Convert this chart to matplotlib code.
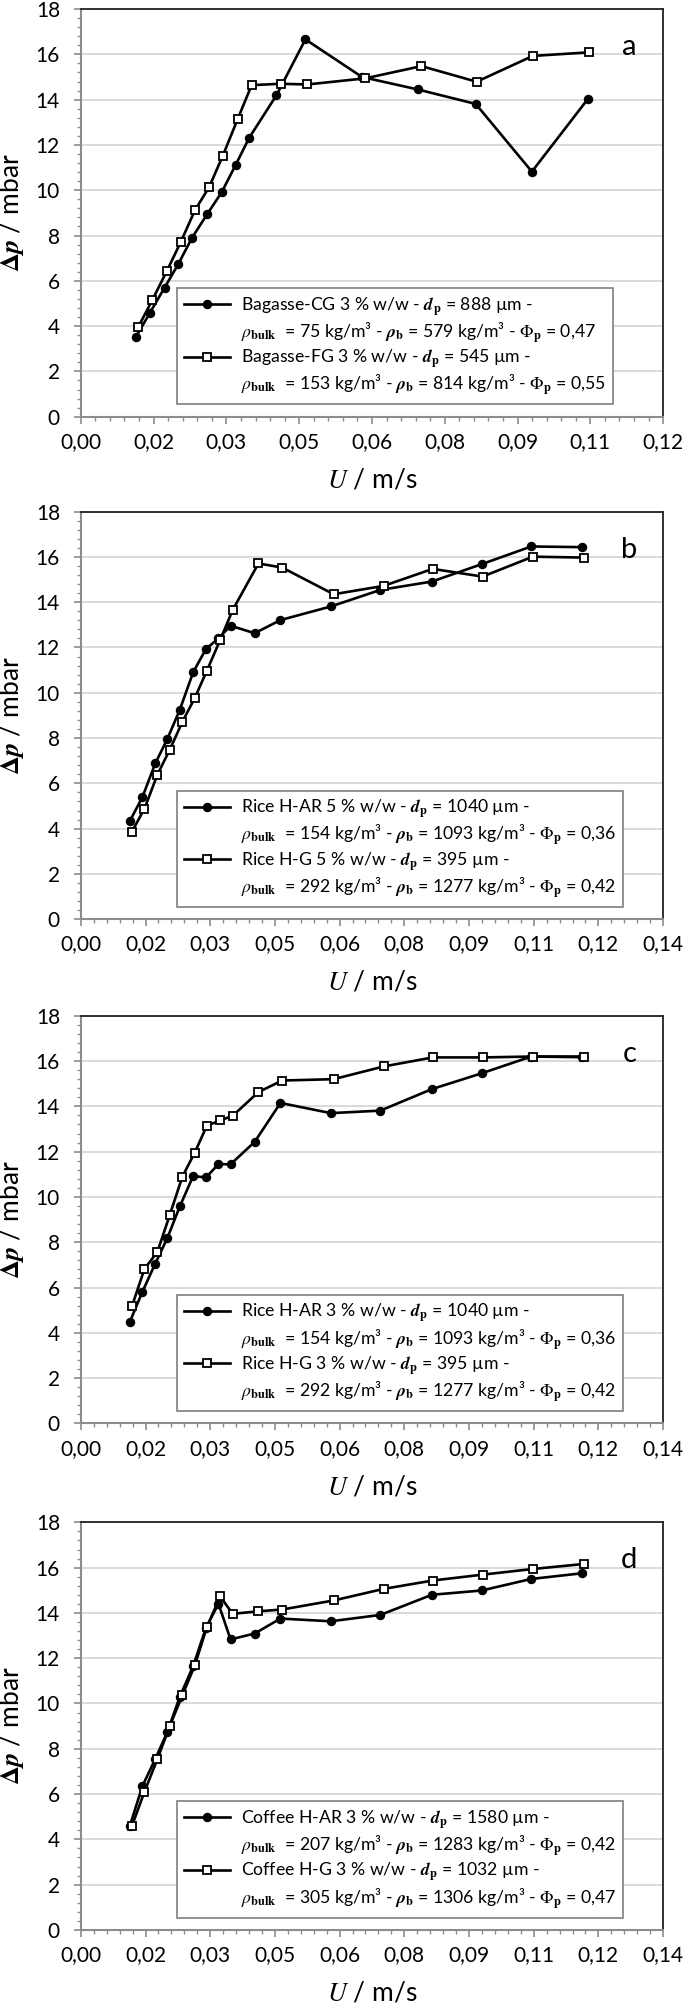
import numpy as np
import matplotlib
matplotlib.use('Agg')
import matplotlib.pyplot as plt
from matplotlib.ticker import FixedLocator, FuncFormatter
from matplotlib.lines import Line2D

plt.rcParams['font.family'] = ['Lato', 'DejaVu Sans']
plt.rcParams['mathtext.fontset'] = 'stix'

# superficial velocities (m/s)
U_ar = [0.0118, 0.0148, 0.0179, 0.0208, 0.0238, 0.0270, 0.0301, 0.0331, 0.0360,
        0.0418, 0.0480, 0.0601, 0.0720, 0.0844, 0.0964, 0.1083, 0.1205]
U_g = [0.0123, 0.0153, 0.0184, 0.0214, 0.0244, 0.0274, 0.0303, 0.0335, 0.0365,
       0.0427, 0.0484, 0.0608, 0.0728, 0.0846, 0.0966, 0.1087, 0.1209]

# pressure drop (mbar)
dp_a_cg = [3.53, 4.60, 5.70, 6.73, 7.91, 8.94, 9.91, 11.12, 12.32, 14.19, 16.66,
           15.00, 14.45, 13.81, 10.82, 14.01]
dp_a_fg = [3.97, 5.16, 6.44, 7.73, 9.12, 10.13, 11.50, 13.13, 14.64, 14.70, 14.67,
           14.94, 15.48, 14.79, 15.93, 16.09]

dp_b_ar = [4.34, 5.39, 6.88, 7.96, 9.25, 10.90, 11.94, 12.40, 12.96, 12.63, 13.21,
           13.81, 14.54, 14.91, 15.68, 16.46, 16.43]
dp_b_g = [3.87, 4.88, 6.38, 7.49, 8.71, 9.77, 10.97, 12.33, 13.65, 15.71, 15.53,
          14.35, 14.72, 15.47, 15.13, 16.01, 15.97]

dp_c_ar = [4.49, 5.81, 7.06, 8.18, 9.58, 10.92, 10.86, 11.45, 11.44, 12.43, 14.15,
           13.70, 13.81, 14.76, 15.46, 16.20, 16.17]
dp_c_g = [5.18, 6.82, 7.57, 9.21, 10.89, 11.96, 13.14, 13.38, 13.58, 14.63, 15.14,
          15.20, 15.76, 16.16, 16.16, 16.20, 16.20]

dp_d_ar = [4.60, 6.35, 7.55, 8.74, 10.30, 11.65, 13.35, 14.40, 12.83, 13.09, 13.75,
           13.63, 13.91, 14.80, 14.99, 15.50, 15.75]
dp_d_g = [4.60, 6.10, 7.54, 9.01, 10.36, 11.68, 13.37, 14.73, 13.96, 14.07, 14.15,
          14.55, 15.06, 15.43, 15.69, 15.94, 16.16]

legend_a = ['Bagasse-CG 3 % w/w - $\\mathbfit{d}_\\mathbf{p}$ = 888 µm -',
            '$\\rho_\\mathbf{bulk}$  = 75 kg/m³ - $\\mathbfit{\\rho}_\\mathbf{b}$ = 579 kg/m³ - $\\Phi_\\mathbf{p}$ = 0,47',
            'Bagasse-FG 3 % w/w - $\\mathbfit{d}_\\mathbf{p}$ = 545 µm -',
            '$\\rho_\\mathbf{bulk}$  = 153 kg/m³ - $\\mathbfit{\\rho}_\\mathbf{b}$ = 814 kg/m³ - $\\Phi_\\mathbf{p}$ = 0,55']
legend_b = ['Rice H-AR 5 % w/w - $\\mathbfit{d}_\\mathbf{p}$ = 1040 µm -',
            '$\\rho_\\mathbf{bulk}$  = 154 kg/m³ - $\\mathbfit{\\rho}_\\mathbf{b}$ = 1093 kg/m³ - $\\Phi_\\mathbf{p}$ = 0,36',
            'Rice H-G 5 % w/w - $\\mathbfit{d}_\\mathbf{p}$ = 395 µm -',
            '$\\rho_\\mathbf{bulk}$  = 292 kg/m³ - $\\mathbfit{\\rho}_\\mathbf{b}$ = 1277 kg/m³ - $\\Phi_\\mathbf{p}$ = 0,42']
legend_c = ['Rice H-AR 3 % w/w - $\\mathbfit{d}_\\mathbf{p}$ = 1040 µm -',
            '$\\rho_\\mathbf{bulk}$  = 154 kg/m³ - $\\mathbfit{\\rho}_\\mathbf{b}$ = 1093 kg/m³ - $\\Phi_\\mathbf{p}$ = 0,36',
            'Rice H-G 3 % w/w - $\\mathbfit{d}_\\mathbf{p}$ = 395 µm -',
            '$\\rho_\\mathbf{bulk}$  = 292 kg/m³ - $\\mathbfit{\\rho}_\\mathbf{b}$ = 1277 kg/m³ - $\\Phi_\\mathbf{p}$ = 0,42']
legend_d = ['Coffee H-AR 3 % w/w - $\\mathbfit{d}_\\mathbf{p}$ = 1580 µm -',
            '$\\rho_\\mathbf{bulk}$  = 207 kg/m³ - $\\mathbfit{\\rho}_\\mathbf{b}$ = 1283 kg/m³ - $\\Phi_\\mathbf{p}$ = 0,42',
            'Coffee H-G 3 % w/w - $\\mathbfit{d}_\\mathbf{p}$ = 1032 µm -',
            '$\\rho_\\mathbf{bulk}$  = 305 kg/m³ - $\\mathbfit{\\rho}_\\mathbf{b}$ = 1306 kg/m³ - $\\Phi_\\mathbf{p}$ = 0,47']

panels = [
    ('a', U_ar[:16], dp_a_cg, U_g[:16], dp_a_fg, legend_a, 8),
    ('b', U_ar, dp_b_ar, U_g, dp_b_g, legend_b, 9),
    ('c', U_ar, dp_c_ar, U_g, dp_c_g, legend_c, 9),
    ('d', U_ar, dp_d_ar, U_g, dp_d_g, legend_d, 9),
]
bottoms = [0.7928, 0.5429, 0.2922, 0.0403]

xstep = 0.14 / 9
fmt = FuncFormatter(lambda v, p: ('%.2f' % v).replace('.', ','))

circ = dict(color='black', lw=1.9, marker='o', ms=5.8)
sq = dict(color='black', lw=1.9, marker='s', ms=6.2, mfc='white', mec='black', mew=1.3)

fig = plt.figure(figsize=(6.85, 20.11), dpi=100)

for (letter, x1, y1, x2, y2, labels, nsteps), b in zip(panels, bottoms):
    ax = fig.add_axes([0.118, b, 0.850, 0.2027])

    ax.plot(x1, y1, zorder=3, **circ)
    ax.plot(x2, y2, zorder=4, **sq)

    ax.set_xlim(0, nsteps * xstep)
    ax.set_ylim(0, 18)
    ax.xaxis.set_major_locator(FixedLocator(np.arange(nsteps + 1) * xstep))
    ax.xaxis.set_minor_locator(FixedLocator(np.arange(nsteps * 5 + 1) * xstep / 5))
    ax.xaxis.set_major_formatter(fmt)
    ax.yaxis.set_major_locator(FixedLocator(np.arange(0, 19, 2)))
    ax.yaxis.set_minor_locator(FixedLocator(np.arange(0, 18.01, 0.4)))

    ax.grid(axis='y', which='major', color='#d9d9d9', lw=1.4)
    ax.set_axisbelow(True)

    for s in ['left', 'bottom']:
        ax.spines[s].set_color('#8c8c8c')
        ax.spines[s].set_linewidth(1.5)
    for s in ['top', 'right']:
        ax.spines[s].set_color('#222222')
        ax.spines[s].set_linewidth(1.3)

    ax.tick_params(which='major', direction='out', length=5, width=1.2,
                   color='#8c8c8c', labelsize=15, pad=6)
    ax.tick_params(which='minor', direction='out', length=3, width=1.0,
                   color='#8c8c8c')
    ax.tick_params(axis='y', which='major', pad=10)

    ax.set_xlabel('$U$ / m/s', fontsize=19, va='center')
    ax.xaxis.set_label_coords(0.5, -0.155)
    ax.set_ylabel('$\\mathbf{\\Delta}\\mathbfit{p}$ / mbar', fontsize=19, va='center')
    ax.yaxis.set_label_coords(-0.119, 0.5)

    ax.text(0.942, 0.907, letter, transform=ax.transAxes, fontsize=21,
            ha='center', va='center')

    blank = Line2D([], [], color='none')
    leg = ax.legend([Line2D([], [], **circ), blank, Line2D([], [], **sq), blank],
                    labels, loc='lower left', bbox_to_anchor=(0.165, 0.03),
                    borderaxespad=0, fontsize=12.7, handlelength=2.6,
                    handletextpad=0.63, labelspacing=0.15, borderpad=0.4,
                    fancybox=False, framealpha=1, edgecolor='#7f7f7f')
    leg.get_frame().set_linewidth(1.2)

fig.savefig('out.png', dpi=100)
